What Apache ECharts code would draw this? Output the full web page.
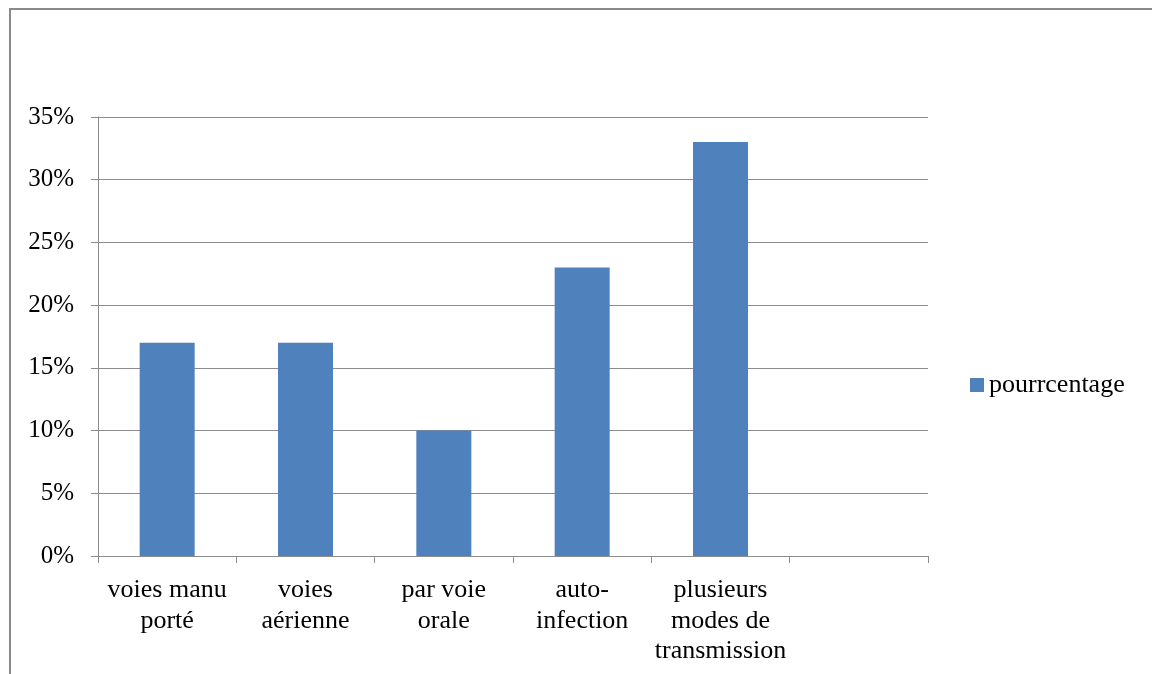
<!DOCTYPE html>
<html>
<head>
<meta charset="utf-8">
<script src="https://cdn.jsdelivr.net/npm/echarts@6/dist/echarts.min.js"></script>
<style>
  html, body { margin: 0; padding: 0; background: #fff; }
  #chart { width: 1152px; height: 674px; }
</style>
</head>
<body>
<div id="chart"></div>
<script>
// Modes de transmission (pourcentage)
const categories = [
  'voies manu\nporté',
  'voies\naérienne',
  'par voie\norale',
  'auto-\ninfection',
  'plusieurs\nmodes de\ntransmission',
  ''
];
const pourrcentage = [17, 17, 10, 23, 33, null];
const seriesName = 'pourrcentage';
const yMin = 0, yMax = 35, yStep = 5;

const axisGray = '#8c8c8c';
const font = 'Liberation Serif, Times New Roman, serif';

const chart = echarts.init(document.getElementById('chart'), null, { renderer: 'canvas' });
chart.setOption({
  animation: false,
  backgroundColor: '#fff',
  textStyle: { fontFamily: font },
  graphic: [{
    type: 'rect',
    shape: { x: 10, y: 9, width: 1200, height: 700 },
    style: { fill: 'none', stroke: '#8a8a8a', lineWidth: 2 },
    silent: true
  }],
  grid: { left: 98, right: 224, top: 117, bottom: 118, containLabel: false },
  legend: {
    data: [seriesName],
    orient: 'vertical',
    left: 970,
    top: 372,
    padding: 0,
    itemWidth: 14,
    itemHeight: 14,
    icon: 'rect',
    textStyle: { fontFamily: font, fontSize: 26, color: '#000' }
  },
  xAxis: {
    type: 'category',
    data: categories,
    boundaryGap: true,
    axisLine: { show: true, lineStyle: { color: axisGray, width: 1 } },
    axisTick: { show: true, length: 7, alignWithLabel: false, lineStyle: { color: axisGray } },
    axisLabel: {
      interval: 0,
      margin: 19,
      fontFamily: font,
      fontSize: 26,
      lineHeight: 30.5,
      color: '#000',
      align: 'center'
    },
    splitLine: { show: false }
  },
  yAxis: {
    type: 'value',
    min: yMin,
    max: yMax,
    interval: yStep,
    axisLine: { show: true, lineStyle: { color: axisGray, width: 1 } },
    axisTick: { show: true, length: 7, lineStyle: { color: axisGray } },
    axisLabel: {
      formatter: '{value}%',
      margin: 24,
      fontFamily: font,
      fontSize: 25,
      color: '#000'
    },
    splitLine: { show: true, lineStyle: { color: axisGray, width: 1 } }
  },
  series: [{
    name: seriesName,
    type: 'bar',
    data: pourrcentage,
    barWidth: 55,
    itemStyle: { color: '#4f81bd' }
  }]
});
</script>
</body>
</html>
